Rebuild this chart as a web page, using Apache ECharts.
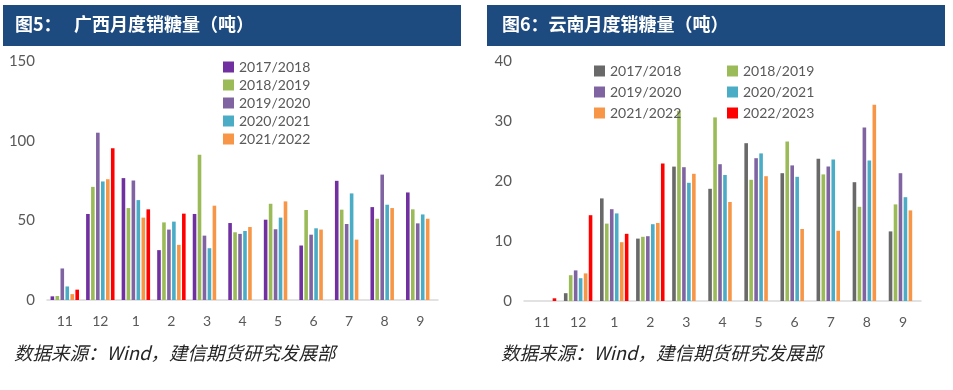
<!DOCTYPE html>
<html><head><meta charset="utf-8">
<script src="https://cdn.jsdelivr.net/npm/echarts@6/dist/echarts.min.js"></script>
<style>
html,body{margin:0;padding:0;background:#fff;}
#c1{position:absolute;left:0;top:0;width:476px;height:390px;}
#c2{position:absolute;left:476px;top:0;width:477px;height:390px;}
</style></head>
<body><div id="c1"></div><div id="c2"></div>
<script>
const months = ['11','12','1','2','3','4','5','6','7','8','9'];
const seasons = ['2017/2018','2018/2019','2019/2020','2020/2021','2021/2022','2022/2023'];

// 广西月度销糖量
const gx1718 = [2.3, 54, 76.5, 31.3, 54, 48.3, 50.4, 34.2, 74.8, 58.3, 67.5];
const gx1819 = [2.5, 71, 57.7, 48.7, 91.2, 42.5, 60.4, 56.5, 56.7, 51, 56.9];
const gx1920 = [19.8, 105, 75, 44.2, 40.4, 41.5, 44.4, 41, 47.7, 78.7, 48.1];
const gx2021 = [8.5, 74.4, 62.7, 49.2, 32.5, 43.3, 51.7, 45, 66.9, 59.8, 53.7];
const gx2122 = [3.7, 75.8, 51.7, 34.6, 59.2, 45.8, 61.9, 44.2, 37.9, 57.7, 51];
const gx2223 = [6.5, 95.2, 56.9, 54.2, null, null, null, null, null, null, null];

// 云南月度销糖量
const yn1718 = [0, 1.3, 17.1, 10.4, 22.4, 18.7, 26.3, 21.3, 23.7, 19.8, 11.6];
const yn1819 = [0, 4.3, 12.9, 10.7, 31.7, 30.6, 20.2, 26.6, 21.1, 15.7, 16.1];
const yn1920 = [0, 5.1, 15.3, 10.8, 22.3, 22.8, 23.8, 22.6, 22.4, 28.9, 21.3];
const yn2021 = [0, 3.8, 14.6, 12.8, 19.7, 21, 24.6, 20.7, 23.6, 23.4, 17.3];
const yn2122 = [0, 4.6, 9.8, 13, 21.2, 16.5, 20.8, 12, 11.7, 32.7, 15.1];
const yn2223 = [0.45, 14.3, 11.2, 22.9, null, null, null, null, null, null, null];

const gxTicks = {min: 0, max: 150, interval: 50};
const ynTicks = {min: 0, max: 40, interval: 10};

const gxColors = ['#7030a0','#9bbb59','#8064a2','#4bacc6','#f79646','#ff0000'];
const ynColors = ['#696969','#9bbb59','#8064a2','#4bacc6','#f79646','#ff0000'];

const TXT = '#595959';
const FONT = 'Lato, "Noto Sans", sans-serif';
const CJK = '"Noto Sans CJK SC", sans-serif';

function makeSeries(arrs, colors) {
  return arrs.map((d, i) => ({
    name: seasons[i], type: 'bar', data: d,
    barWidth: 3.6, barGap: '38%',
    itemStyle: {color: colors[i]},
    emphasis: {disabled: true}
  }));
}

function baseOption(o) {
  return {
    animation: false,
    graphic: [
      {type: 'rect', left: o.barX, top: 5, shape: {width: o.barW, height: 41}, style: {fill: '#1d4a7f'}},
      {type: 'text', left: o.titleX, top: 15, style: {text: o.title, fill: '#fff', font: 'bold 18px ' + CJK}},
      {type: 'text', left: o.footX, top: 344, style: {text: '数据来源：Wind，建信期货研究发展部', fill: '#262626', font: 'italic 18.5px ' + CJK}}
    ],
    legend: o.legends,
    grid: {left: o.gridLeft, top: 61, width: o.gridW, height: o.gridH},
    xAxis: {
      type: 'category', data: months,
      axisLine: {lineStyle: {color: '#d9d9d9', width: 1.5}},
      axisTick: {show: false},
      axisLabel: {color: TXT, fontSize: 14, fontFamily: FONT, margin: 14}
    },
    yAxis: {
      type: 'value', min: o.ticks.min, max: o.ticks.max, interval: o.ticks.interval,
      splitLine: {show: false}, axisLine: {show: false}, axisTick: {show: false},
      axisLabel: {color: TXT, fontSize: 15, fontFamily: FONT, margin: 12}
    },
    series: o.series
  };
}

const legendText = {color: TXT, fontSize: 14, fontFamily: FONT, lineHeight: 14};

const c1 = echarts.init(document.getElementById('c1'), null, {renderer: 'canvas'});
c1.setOption(baseOption({
  barX: 3, barW: 458, titleX: 15, footX: 14,
  title: '图5：   广西月度销糖量（吨）',
  gridLeft: 47, gridW: 391, gridH: 239, ticks: gxTicks,
  legends: [{
    orient: 'vertical', left: 218, top: 55, itemWidth: 11, itemHeight: 11, itemGap: 4,
    icon: 'rect', textStyle: legendText, selectedMode: false,
    data: seasons.slice(0, 5)
  }],
  series: makeSeries([gx1718, gx1819, gx1920, gx2021, gx2122, gx2223], gxColors)
}));

const c2 = echarts.init(document.getElementById('c2'), null, {renderer: 'canvas'});
c2.setOption(baseOption({
  barX: 11, barW: 458, titleX: 26, footX: 25,
  title: '图6：云南月度销糖量（吨）',
  gridLeft: 48, gridW: 397, gridH: 240, ticks: ynTicks,
  legends: [
    {orient: 'vertical', left: 113, top: 59, itemWidth: 11, itemHeight: 11, itemGap: 7,
     icon: 'rect', textStyle: legendText, selectedMode: false,
     data: [seasons[0], seasons[2], seasons[4]]},
    {orient: 'vertical', left: 246, top: 59, itemWidth: 11, itemHeight: 11, itemGap: 7,
     icon: 'rect', textStyle: legendText, selectedMode: false,
     data: [seasons[1], seasons[3], seasons[5]]}
  ],
  series: makeSeries([yn1718, yn1819, yn1920, yn2021, yn2122, yn2223], ynColors)
}));
</script></body></html>
